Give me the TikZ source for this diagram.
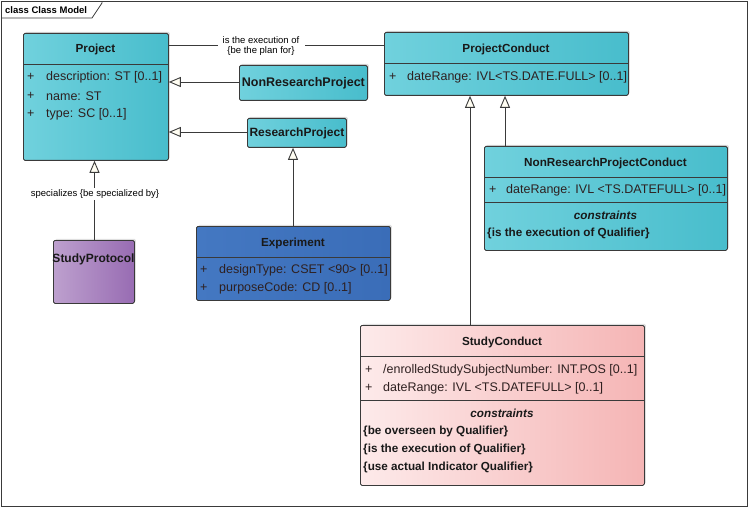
\documentclass[tikz,border=0pt]{standalone}
\usepackage{fontspec}
\setmainfont{Liberation Sans}
\usetikzlibrary{arrows.meta,shadows}
\definecolor{cyanL}{HTML}{70D1DD}
\definecolor{cyanR}{HTML}{48BDCC}
\definecolor{blueL}{HTML}{4478C2}
\definecolor{blueR}{HTML}{3A6DB8}
\definecolor{purL}{HTML}{BDA0CE}
\definecolor{purR}{HTML}{986CB3}
\definecolor{pinkL}{HTML}{FDEAEA}
\definecolor{pinkR}{HTML}{F5B5B5}
\definecolor{txt}{HTML}{2E2020}
\definecolor{edge}{HTML}{3A3A3A}
\definecolor{arrowfill}{HTML}{FFFDF2}
\tikzset{
  umlbox/.style={draw=edge, line width=0.8pt, rounded corners=1.5pt, anchor=north west, inner sep=0pt,
    drop shadow={shadow xshift=1.5pt, shadow yshift=1.5pt, opacity=0.25}},
  cyanbox/.style={umlbox, left color=cyanL, right color=cyanR},
  bluebox/.style={umlbox, left color=blueL, right color=blueR},
  purbox/.style={umlbox, left color=purL, right color=purR},
  pinkbox/.style={umlbox, left color=pinkL, right color=pinkR},
  hdr/.style={font=\fontsize{11.7}{13}\selectfont\bfseries, text=black!90, inner sep=0pt},
  attr/.style={font=\fontsize{12.5}{14}\selectfont, text=txt, anchor=west, inner sep=0pt},
  cons/.style={font=\fontsize{11.7}{13}\selectfont\bfseries, text=black!90, anchor=west, inner sep=0pt},
  consh/.style={font=\fontsize{11.7}{13}\selectfont\bfseries\itshape, text=black!90, inner sep=0pt},
  small/.style={font=\fontsize{9.5}{11}\selectfont, text=black, inner sep=0pt},
  sep/.style={draw=edge, line width=0.8pt},
  conn/.style={draw=edge, line width=0.9pt},
  gen/.style={conn, -{Triangle[open, width=10pt, length=12pt, fill=arrowfill]}},
}
\begin{document}
\begin{tikzpicture}[x=1pt,y=-1pt]
\useasboundingbox (0,0) rectangle (750,508);
\fill[white] (0,0) rectangle (750,508);
% frame
\draw[edge, line width=0.9pt] (1.5,1.5) rectangle (747,506);
\draw[edge, line width=0.8pt] (1.5,18) -- (92,18) -- (102,3) -- (102,1.5);
\node[font=\fontsize{9.5}{11}\selectfont\bfseries, anchor=west, inner sep=0pt] (title) at (5,10) {class Class Model};

% Project
\node[cyanbox, minimum width=145pt, minimum height=127pt] (proj) at (23,33) {};
\draw[sep] (23,64) -- (168,64);
\node[hdr] (projh) at (95.5,49) {Project};
\node[attr] (pa1) at (27,77) {+};
\node[attr] (pa2) at (27,96) {+};
\node[attr] (pa3) at (27,114) {+};
\node[attr] (pb1) at (46,77) {description: ST [0..1]};
\node[attr] (pb2) at (46,96) {name: ST};
\node[attr] (pb3) at (46,114) {type: SC [0..1]};

% NonResearchProject
\node[cyanbox, minimum width=128pt, minimum height=35pt] (nrp) at (239,65) {};
\node[hdr, font=\fontsize{12.5}{14}\selectfont\bfseries] at (nrp.center) {NonResearchProject};

% ResearchProject
\node[cyanbox, minimum width=99pt, minimum height=29pt] (rp) at (247,118) {};
\node[hdr, font=\fontsize{12}{14}\selectfont\bfseries] at (rp.center) {ResearchProject};

% ProjectConduct
\node[cyanbox, minimum width=244pt, minimum height=63pt] (pc) at (384,32) {};
\draw[sep] (384,63) -- (628,63);
\node[hdr] at (506,49) {ProjectConduct};
\node[attr] at (389,77) {+};
\node[attr] at (407,77) {dateRange: IVL<TS.DATE.FULL> [0..1]};

% NonResearchProjectConduct
\node[cyanbox, minimum width=243pt, minimum height=104pt] (nrpc) at (484,146) {};
\draw[sep] (484,177) -- (727,177);
\draw[sep] (484,202) -- (727,202);
\node[hdr] at (605.5,163) {NonResearchProjectConduct};
\node[attr] at (489,190) {+};
\node[attr] at (506,190) {dateRange: IVL <TS.DATEFULL> [0..1]};
\node[consh] at (605.5,215) {constraints};
\node[cons] at (487,233) {\{is the execution of Qualifier\}};

% Experiment
\node[bluebox, minimum width=194pt, minimum height=74pt] (exp) at (196,226) {};
\draw[sep] (196,257) -- (390,257);
\node[hdr] at (293,243) {Experiment};
\node[attr] at (200,270) {+};
\node[attr] at (219,270) {designType: CSET <90> [0..1]};
\node[attr] at (200,288) {+};
\node[attr] at (219,288) {purposeCode: CD [0..1]};

% StudyProtocol
\node[purbox, minimum width=81pt, minimum height=63pt] (sp) at (53,240) {};
\node[hdr, font=\fontsize{12}{14}\selectfont\bfseries] at (93.5,259) {StudyProtocol};

% StudyConduct
\node[pinkbox, minimum width=284pt, minimum height=160pt] (sc) at (360,325) {};
\draw[sep] (360,356) -- (644,356);
\draw[sep] (360,400) -- (644,400);
\node[hdr] at (502,342) {StudyConduct};
\node[attr] at (365,370) {+};
\node[attr] at (383,370) {/enrolledStudySubjectNumber: INT.POS [0..1]};
\node[attr] at (365,388) {+};
\node[attr] at (383,388) {dateRange: IVL <TS.DATEFULL> [0..1]};
\node[consh] at (502,413) {constraints};
\node[cons] at (363,431) {\{be overseen by Qualifier\}};
\node[cons] at (363,449) {\{is the execution of Qualifier\}};
\node[cons] at (363,467) {\{use actual Indicator Qualifier\}};

% connectors
\draw[conn] (proj.east |- 0,45) -- (pc.west |- 0,45);
\fill[white] (218,39) rectangle (305,56);
\node[small] (l1) at (261,40) {is the execution of};
\node[small] (l2) at (261,51) {\{be the plan for\}};

\draw[gen] (nrp.west |- 0,82) -- (proj.east |- 0,82);
\draw[gen] (rp.west |- 0,132) -- (proj.east |- 0,132);
\draw[gen] (exp.north -| 293,0) -- (rp.south -| 293,0);
\draw[gen] (sc.north -| 470,0) -- (pc.south -| 470,0);
\draw[gen] (nrpc.north -| 505,0) -- (pc.south -| 505,0);
\draw[gen] (sp.north -| 94.5,0) -- (proj.south -| 94.5,0);
\fill[white] (28,188) rectangle (162,200);
\node[small] (l3) at (95,194) {specializes \{be specialized by\}};
\end{tikzpicture}
\end{document}
